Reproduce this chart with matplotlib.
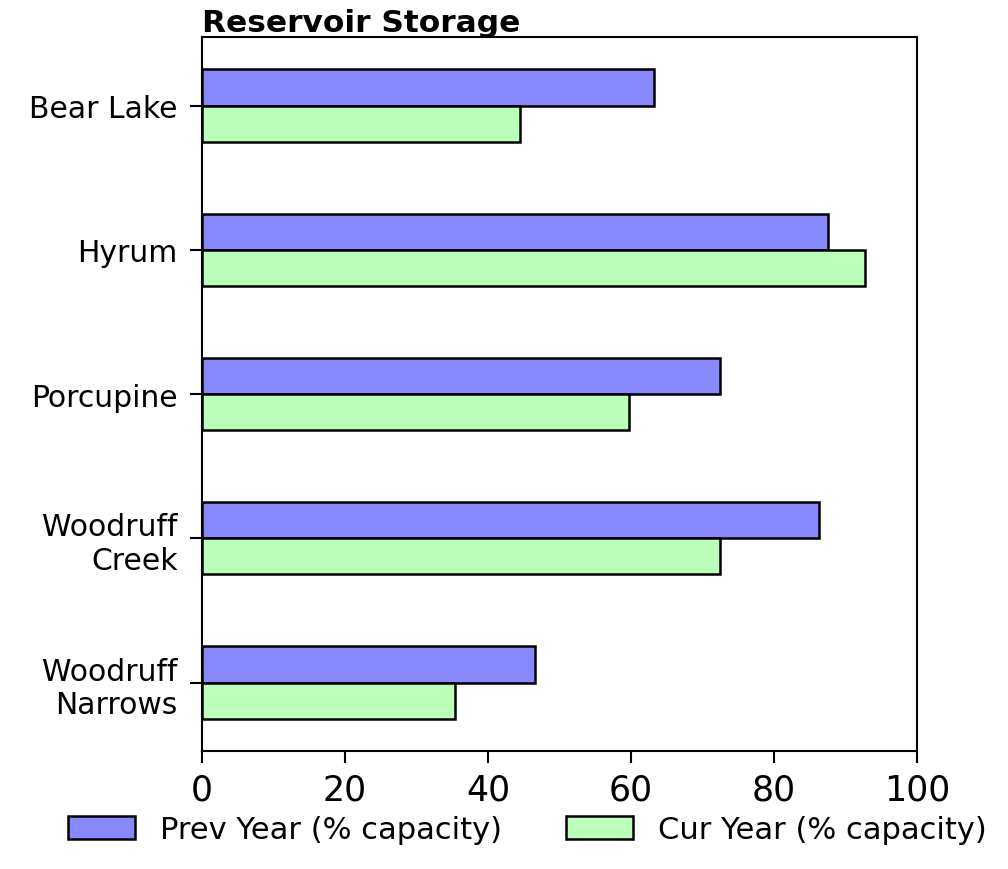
import matplotlib
matplotlib.use("Agg")
import matplotlib.pyplot as plt
import numpy as np

reservoirs = ["Bear Lake", "Hyrum", "Porcupine", "Woodruff\nCreek", "Woodruff\nNarrows"]
prev_year = [63.2, 87.6, 72.4, 86.3, 46.6]
cur_year = [44.5, 92.7, 59.7, 72.4, 35.4]
series_labels = ["Prev Year (% capacity)", "Cur Year (% capacity)"]
x_ticks = [0, 20, 40, 60, 80, 100]

fig = plt.figure(figsize=(10.08, 8.7), dpi=100)
ax = fig.add_axes([0.2004, 0.1356, 0.7093, 0.8207])

y = np.arange(len(reservoirs))
h = 0.25
ax.barh(y - h / 2, prev_year, height=h, color="#8888ff", edgecolor="black", linewidth=1.8, label=series_labels[0])
ax.barh(y + h / 2, cur_year, height=h, color="#bbffbb", edgecolor="black", linewidth=1.8, label=series_labels[1])

ax.set_yticks(y)
ax.set_yticklabels(reservoirs, fontsize=21.5)
ax.invert_yaxis()
ax.set_xlim(0, 100)
ax.set_xticks(x_ticks)
ax.tick_params(axis="x", labelsize=25, length=8.5, width=1.5, pad=7)
ax.tick_params(axis="y", length=8.5, width=1.5, pad=9)
for s in ax.spines.values():
    s.set_linewidth(1.5)

ax.set_title("Reservoir Storage", loc="left", fontsize=22.5, fontweight="bold", pad=4)

ax.legend(loc="center", bbox_to_anchor=(0.455, -0.11), ncol=2, frameon=False,
          fontsize=22, handlelength=2.2, handleheight=0.8, handletextpad=0.8,
          columnspacing=2.1, borderaxespad=0)

fig.savefig("out.png", dpi=100)
